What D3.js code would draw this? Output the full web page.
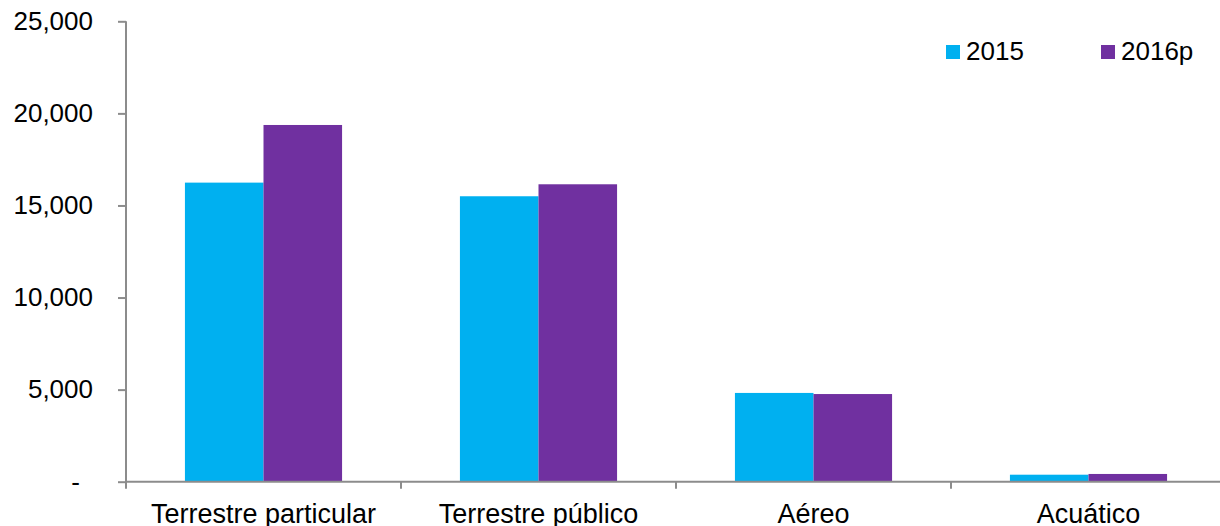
<!DOCTYPE html>
<html>
<head>
<meta charset="utf-8">
<script src="https://cdn.jsdelivr.net/npm/d3@7"></script>
<style>
  html, body { margin: 0; padding: 0; background: #fff; }
  svg { display: block; font-family: "Liberation Sans", Arial, sans-serif; }
</style>
</head>
<body>
<svg id="chart" width="1220" height="526"></svg>
<script>
const categories = ["Terrestre particular", "Terrestre público", "Aéreo", "Acuático"];
const seriesNames = ["2015", "2016p"];
const values2015 = [16240, 15500, 4820, 380];
const values2016p = [19370, 16150, 4760, 420];
const yTicks = [0, 5000, 10000, 15000, 20000, 25000];
const yTickLabels = ["-", "5,000", "10,000", "15,000", "20,000", "25,000"];
const colors = ["#00B0F0", "#7030A0"];

(function () {
const series = [values2015, values2016p];
const svg = d3.select("#chart");
const pLeft = 126, pRight = 1226, pTop = 21.3, pBottom = 481.7;
const axisColor = "#8c8c8c";

const x = d3.scaleBand().domain(categories).range([pLeft, pRight]).paddingInner(0).paddingOuter(0);
const xSub = d3.scaleBand().domain(seriesNames).range([0, x.bandwidth()]).paddingInner(0).paddingOuter(0.75);
const y = d3.scaleLinear().domain([0, 25000]).range([pBottom, pTop]);

// bars
seriesNames.forEach((s, si) => {
  svg.append("g").selectAll("rect").data(categories).join("rect")
    .attr("x", d => x(d) + xSub(s))
    .attr("width", xSub.bandwidth())
    .attr("y", (d, i) => y(series[si][i]))
    .attr("height", (d, i) => y(0) - y(series[si][i]))
    .attr("fill", colors[si]);
});

// y axis
const yAxis = d3.axisLeft(y).tickValues(yTicks).tickSize(8).tickPadding(25)
  .tickFormat((d, i) => yTickLabels[i]);
const gy = svg.append("g").attr("transform", `translate(${pLeft},0)`).call(yAxis);
gy.select(".domain").remove();
gy.append("line").attr("x1", 0).attr("x2", 0).attr("y1", pTop).attr("y2", pBottom + 7)
  .attr("stroke", axisColor).attr("stroke-width", 2);
gy.selectAll(".tick line").attr("stroke", axisColor).attr("stroke-width", 2);
gy.selectAll(".tick text").attr("fill", "#000").attr("font-size", 26)
  .attr("font-family", "Liberation Sans, Arial, sans-serif")
  .attr("dx", d => d === 0 ? -13 : 0);

// x axis
const gx = svg.append("g").attr("transform", `translate(0,${pBottom})`);
gx.append("line").attr("x1", pLeft).attr("x2", pRight).attr("y1", 0).attr("y2", 0)
  .attr("stroke", axisColor).attr("stroke-width", 2);
gx.selectAll("line.tk").data(categories).join("line").attr("class", "tk")
  .attr("x1", d => x(d) + x.step())
  .attr("x2", d => x(d) + x.step())
  .attr("y1", 0).attr("y2", 7).attr("stroke", axisColor).attr("stroke-width", 2);
gx.selectAll("text").data(categories).join("text")
  .attr("x", d => x(d) + x.bandwidth() / 2)
  .attr("y", 41)
  .attr("text-anchor", "middle")
  .attr("font-size", 27)
  .attr("fill", "#000")
  .text(d => d);

// legend
const legendX = [946, 1101];
const lg = svg.append("g");
seriesNames.forEach((s, i) => {
  lg.append("rect").attr("x", legendX[i]).attr("y", 45).attr("width", 14).attr("height", 14).attr("fill", colors[i]);
  lg.append("text").attr("x", legendX[i] + 20).attr("y", 60).attr("font-size", 26).attr("fill", "#000").text(s);
});
})();
</script>
</body>
</html>
